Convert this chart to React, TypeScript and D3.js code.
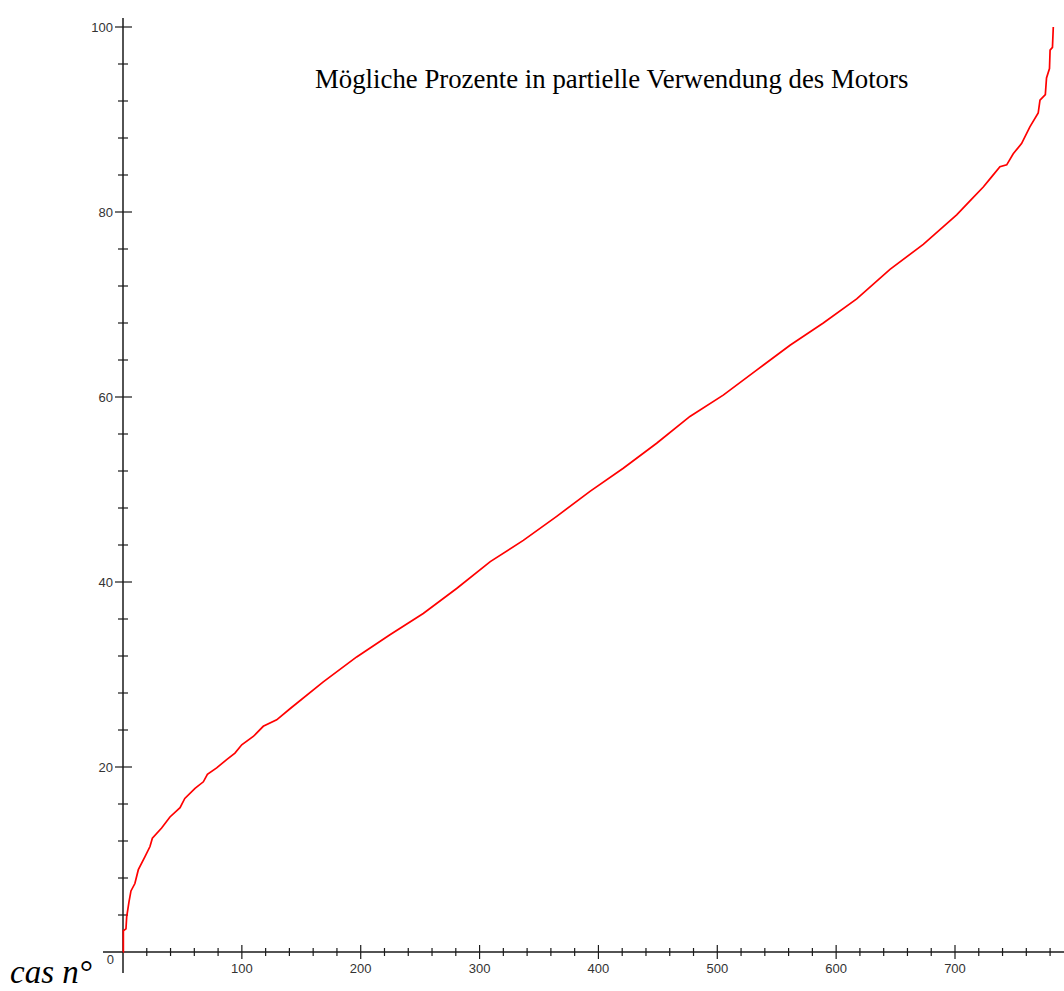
import React from "react";
import * as d3 from "d3";

// Case number (x) and percentage (y)
const caseNumbers = [
  0, 0.3, 0.3, 2.5, 3.1, 5, 6.7, 10, 12.9, 18.5, 22.7, 24.7, 32.5, 39.5, 48, 52,
  60.6, 67.6, 71, 78.8, 87.2, 94.2, 99.9, 109.6, 118, 129.3, 140.5, 168.5, 196.6,
  224.6, 252.6, 280.7, 309, 336.8, 364.9, 392.9, 420.9, 449, 477, 505, 533.1,
  561.2, 589.2, 617.3, 645.3, 673.3, 701.4, 714, 723.8, 730.8, 737.8, 743.5, 749,
  756, 763, 770, 771.5, 776, 777, 779.5, 780, 782, 782.7,
];
const percents = [
  0, 0, 2.3, 2.5, 3.8, 5.4, 6.6, 7.4, 8.9, 10.3, 11.4, 12.3, 13.4, 14.6, 15.6, 16.6,
  17.7, 18.4, 19.2, 19.9, 20.8, 21.5, 22.4, 23.3, 24.4, 25.1, 26.3, 29.2, 31.9,
  34.3, 36.6, 39.3, 42.2, 44.5, 47.1, 49.8, 52.3, 55.0, 57.9, 60.2, 62.9,
  65.6, 68.0, 70.6, 73.8, 76.5, 79.7, 81.4, 82.7, 83.8, 84.9, 85.1, 86.3,
  87.4, 89.2, 90.7, 92.1, 92.7, 94.5, 95.5, 97.5, 97.8, 100,
];

const xMajorTicks = [100, 200, 300, 400, 500, 600, 700];
const xMinorTicks = d3.range(20, 781, 20).filter((v) => v % 100 !== 0);
const yMajorTicks = [20, 40, 60, 80, 100];
const yMinorTicks = d3.range(4, 101, 4).filter((v) => v % 20 !== 0);

const title = "Mögliche Prozente in partielle Verwendung des Motors";
const xAxisLabel = "cas n°";

export default function App() {
  const W = 1064;
  const H = 991;
  const x = d3.scaleLinear().domain([0, 700]).range([123, 955]);
  const y = d3.scaleLinear().domain([0, 100]).range([952, 27]);

  const pts: [number, number][] = caseNumbers.map((c, i) => [c, percents[i]]);
  const line = d3
    .line<[number, number]>()
    .x((d) => x(d[0]))
    .y((d) => y(d[1]))
    .curve(d3.curveLinear);

  const axisColor = "#1a1a1a";
  const tickFont = "'Liberation Sans', Arial, sans-serif";

  return (
    <svg
      width={W}
      height={H}
      style={{ position: "absolute", left: 0, top: 0, background: "#fff" }}
    >
      <rect x={0} y={0} width={W} height={H} fill="#fff" />
      {/* axes */}
      <line x1={103} x2={W} y1={y(0)} y2={y(0)} stroke={axisColor} strokeWidth={1.5} />
      <line x1={x(0)} x2={x(0)} y1={973} y2={18} stroke={axisColor} strokeWidth={1.5} />

      {xMinorTicks.map((t) => (
        <line key={"xm" + t} x1={x(t)} x2={x(t)} y1={y(0) - 4} y2={y(0) + 4} stroke={axisColor} strokeWidth={1.2} />
      ))}
      {xMajorTicks.map((t) => (
        <g key={"xM" + t}>
          <line x1={x(t)} x2={x(t)} y1={y(0) - 7} y2={y(0) + 7} stroke={axisColor} strokeWidth={1.2} />
          <text x={x(t)} y={973} textAnchor="middle" fontFamily={tickFont} fontSize={13} fill="#333">
            {t}
          </text>
        </g>
      ))}
      {yMinorTicks.map((t) => (
        <line key={"ym" + t} x1={x(0) - 5} x2={x(0) + 5} y1={y(t)} y2={y(t)} stroke={axisColor} strokeWidth={1.2} />
      ))}
      {yMajorTicks.map((t) => (
        <g key={"yM" + t}>
          <line x1={x(0) - 8} x2={x(0) + 9} y1={y(t)} y2={y(t)} stroke={axisColor} strokeWidth={1.2} />
          <text x={113} y={y(t) + 4.5} textAnchor="end" fontFamily={tickFont} fontSize={13} fill="#333">
            {t}
          </text>
        </g>
      ))}
      <text x={114} y={964} textAnchor="end" fontFamily={tickFont} fontSize={13} fill="#333">
        0
      </text>

      {/* curve */}
      <path d={line(pts) || ""} fill="none" stroke="#ff0000" strokeWidth={1.7} />

      {/* texts */}
      <text x={315} y={88} fontFamily="'Liberation Serif', 'Times New Roman', serif" fontSize={26.8} fill="#000">
        {title}
      </text>
      <text
        x={10}
        y={983}
        fontFamily="'Liberation Serif', 'Times New Roman', serif"
        fontStyle="italic"
        fontSize={33}
        fill="#000"
      >
        {xAxisLabel}
      </text>
    </svg>
  );
}
